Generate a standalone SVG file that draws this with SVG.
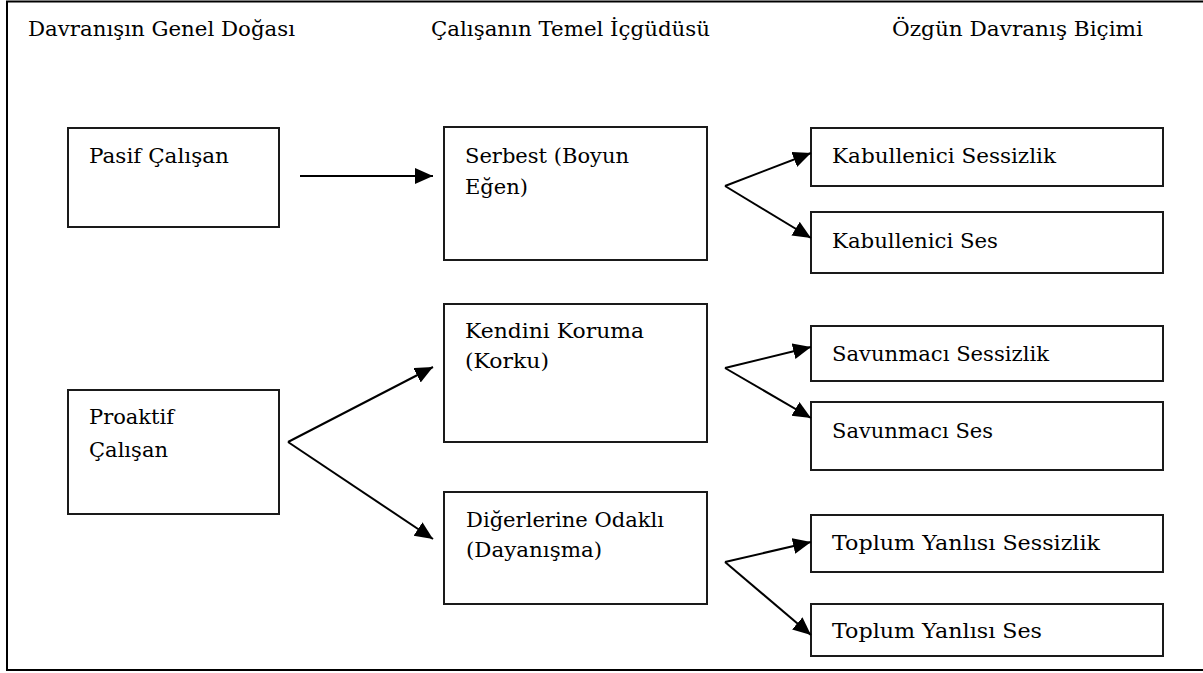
<svg xmlns="http://www.w3.org/2000/svg" width="1203" height="673" viewBox="0 0 1203 673">
  <style>
    .frame { fill: #ffffff; stroke: #000000; stroke-width: 2; }
    .box { fill: #ffffff; stroke: #1a1a1a; stroke-width: 2; }
    .link { fill: none; stroke: #000000; stroke-width: 2; }
    .t { font-family: 'DejaVu Serif', serif; font-size: 21px; fill: #000000; }
  </style>
  <defs>
    <marker id="arrow" markerUnits="userSpaceOnUse" markerWidth="19" markerHeight="17" refX="18" refY="8" orient="auto">
      <path d="M0,0 L18,8 L0,16 Z" fill="#000000"/>
    </marker>
  </defs>

  <!-- outer frame (right side runs past the canvas edge) -->
  <rect class="frame" x="7" y="1.5" width="1210" height="668.5"/>

  <!-- column headings -->
  <g id="headings">
    <text class="t" x="28" y="36" textLength="267" lengthAdjust="spacingAndGlyphs">Davranışın Genel Doğası</text>
    <text class="t" x="431" y="36" textLength="279" lengthAdjust="spacingAndGlyphs">Çalışanın Temel İçgüdüsü</text>
    <text class="t" x="892" y="36" textLength="251" lengthAdjust="spacingAndGlyphs">Özgün Davranış Biçimi</text>
  </g>

  <!-- first column -->
  <g id="pasif">
    <rect class="box" x="68" y="128" width="211" height="99"/>
    <text class="t" x="89" y="163" textLength="140" lengthAdjust="spacingAndGlyphs">Pasif Çalışan</text>
  </g>
  <g id="proaktif">
    <rect class="box" x="68" y="390" width="211" height="124"/>
    <text class="t" x="89" y="424" textLength="85" lengthAdjust="spacingAndGlyphs">Proaktif</text>
    <text class="t" x="89" y="457" textLength="79" lengthAdjust="spacingAndGlyphs">Çalışan</text>
  </g>

  <!-- second column -->
  <g id="serbest">
    <rect class="box" x="444" y="127" width="263" height="133"/>
    <text class="t" x="465" y="163" textLength="164" lengthAdjust="spacingAndGlyphs">Serbest (Boyun</text>
    <text class="t" x="465" y="194" textLength="63" lengthAdjust="spacingAndGlyphs">Eğen)</text>
  </g>
  <g id="kendini-koruma">
    <rect class="box" x="444" y="304" width="263" height="138"/>
    <text class="t" x="465" y="338" textLength="179" lengthAdjust="spacingAndGlyphs">Kendini Koruma</text>
    <text class="t" x="465" y="368" textLength="84" lengthAdjust="spacingAndGlyphs">(Korku)</text>
  </g>
  <g id="digerlerine-odakli">
    <rect class="box" x="444" y="492" width="263" height="112"/>
    <text class="t" x="466" y="527" textLength="198" lengthAdjust="spacingAndGlyphs">Diğerlerine Odaklı</text>
    <text class="t" x="466" y="557" textLength="136" lengthAdjust="spacingAndGlyphs">(Dayanışma)</text>
  </g>

  <!-- third column -->
  <g id="kabullenici-sessizlik">
    <rect class="box" x="811" y="128" width="352" height="58"/>
    <text class="t" x="832" y="163" textLength="224" lengthAdjust="spacingAndGlyphs">Kabullenici Sessizlik</text>
  </g>
  <g id="kabullenici-ses">
    <rect class="box" x="811" y="212" width="352" height="61"/>
    <text class="t" x="832" y="248" textLength="166" lengthAdjust="spacingAndGlyphs">Kabullenici Ses</text>
  </g>
  <g id="savunmaci-sessizlik">
    <rect class="box" x="811" y="326" width="352" height="55"/>
    <text class="t" x="832" y="361" textLength="217" lengthAdjust="spacingAndGlyphs">Savunmacı Sessizlik</text>
  </g>
  <g id="savunmaci-ses">
    <rect class="box" x="811" y="402" width="352" height="68"/>
    <text class="t" x="832" y="438" textLength="161" lengthAdjust="spacingAndGlyphs">Savunmacı Ses</text>
  </g>
  <g id="toplum-yanlisi-sessizlik">
    <rect class="box" x="811" y="515" width="352" height="57"/>
    <text class="t" x="832" y="550" textLength="268" lengthAdjust="spacingAndGlyphs">Toplum Yanlısı Sessizlik</text>
  </g>
  <g id="toplum-yanlisi-ses">
    <rect class="box" x="811" y="604" width="352" height="52"/>
    <text class="t" x="832" y="638" textLength="210" lengthAdjust="spacingAndGlyphs">Toplum Yanlısı Ses</text>
  </g>

  <!-- connectors -->
  <g id="connectors">
    <line class="link" x1="300" y1="176" x2="433" y2="176" marker-end="url(#arrow)"/>
    <line class="link" x1="288" y1="442" x2="433" y2="367" marker-end="url(#arrow)"/>
    <line class="link" x1="288" y1="442" x2="433" y2="539" marker-end="url(#arrow)"/>
    <line class="link" x1="725" y1="186" x2="811" y2="153" marker-end="url(#arrow)"/>
    <line class="link" x1="725" y1="186" x2="811" y2="238" marker-end="url(#arrow)"/>
    <line class="link" x1="725" y1="368" x2="811" y2="347" marker-end="url(#arrow)"/>
    <line class="link" x1="725" y1="368" x2="811" y2="418" marker-end="url(#arrow)"/>
    <line class="link" x1="725" y1="562" x2="811" y2="542" marker-end="url(#arrow)"/>
    <line class="link" x1="725" y1="562" x2="811" y2="635" marker-end="url(#arrow)"/>
  </g>
</svg>
